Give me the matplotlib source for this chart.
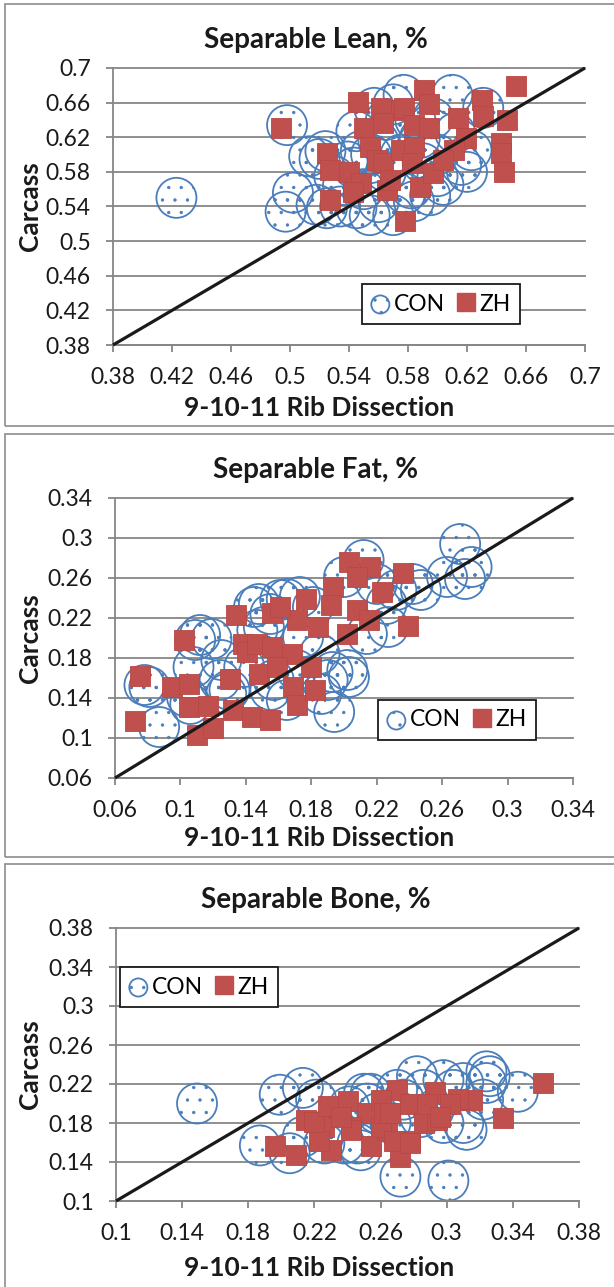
import matplotlib.pyplot as plt
import matplotlib.hatch as mhatch
from matplotlib.patches import Rectangle
from matplotlib.lines import Line2D

W, H = 614, 1287
blue = '#4a7ebb'
red = '#c0504d'
gray = '#868686'

plt.rcParams['font.family'] = ['Lato', 'DejaVu Sans']
plt.rcParams['hatch.color'] = blue
plt.rcParams['hatch.linewidth'] = 0.6


# Excel's dotted fill is sparser than matplotlib's '.' hatch
class SparseDots(mhatch.SmallFilledCircles):
    def __init__(self, hatch, density):
        self.num_rows = hatch.count('.') * 8
        mhatch.Circles.__init__(self, hatch, density)


mhatch._hatch_types[mhatch._hatch_types.index(mhatch.SmallFilledCircles)] = SparseDots

# ---- Separable Lean
lean_con_x = [0.423, 0.498, 0.497, 0.502, 0.513, 0.524, 0.518, 0.525, 0.534, 0.545,
              0.554, 0.539, 0.548, 0.557, 0.570, 0.545, 0.582, 0.570, 0.536, 0.610,
              0.631, 0.623, 0.616, 0.604, 0.595, 0.584, 0.620, 0.597, 0.588, 0.577,
              0.530, 0.555, 0.560, 0.565, 0.575, 0.590, 0.600, 0.585, 0.565, 0.550,
              0.560, 0.612, 0.600, 0.520, 0.543, 0.578]
lean_con_y = [0.550, 0.634, 0.534, 0.556, 0.598, 0.604, 0.542, 0.538, 0.540, 0.538,
              0.530, 0.592, 0.604, 0.654, 0.658, 0.627, 0.561, 0.530, 0.565, 0.669,
              0.654, 0.605, 0.588, 0.565, 0.553, 0.546, 0.580, 0.642, 0.619, 0.669,
              0.575, 0.600, 0.615, 0.580, 0.600, 0.590, 0.600, 0.640, 0.640, 0.560,
              0.545, 0.625, 0.575, 0.595, 0.585, 0.555]
lean_zh_x = [0.546, 0.494, 0.591, 0.594, 0.570, 0.562, 0.577, 0.653, 0.630, 0.631,
             0.614, 0.647, 0.619, 0.550, 0.563, 0.584, 0.594, 0.554, 0.559, 0.563,
             0.575, 0.584, 0.611, 0.643, 0.643, 0.645, 0.525, 0.527, 0.540, 0.548,
             0.566, 0.568, 0.588, 0.597, 0.604, 0.527, 0.578, 0.583, 0.543]
lean_zh_y = [0.661, 0.631, 0.675, 0.658, 0.652, 0.654, 0.654, 0.679, 0.663, 0.644,
             0.642, 0.640, 0.619, 0.631, 0.636, 0.634, 0.631, 0.609, 0.594, 0.590,
             0.605, 0.609, 0.605, 0.613, 0.602, 0.580, 0.602, 0.582, 0.580, 0.567,
             0.559, 0.571, 0.563, 0.579, 0.594, 0.548, 0.523, 0.590, 0.557]

# ---- Separable Fat
fat_con_x = [0.078, 0.087, 0.109, 0.119, 0.104, 0.108, 0.124, 0.128, 0.148, 0.165,
             0.173, 0.151, 0.139, 0.155, 0.185, 0.193, 0.203, 0.194, 0.212, 0.214,
             0.227, 0.220, 0.242, 0.247, 0.263, 0.271, 0.278, 0.274, 0.232, 0.200,
             0.175, 0.155, 0.125, 0.112, 0.081, 0.106, 0.130, 0.145, 0.161, 0.147,
             0.157, 0.165, 0.226, 0.202, 0.190, 0.181, 0.186, 0.171]
fat_con_y = [0.153, 0.111, 0.198, 0.199, 0.141, 0.171, 0.158, 0.144, 0.234, 0.239,
             0.241, 0.211, 0.171, 0.148, 0.184, 0.166, 0.161, 0.126, 0.278, 0.204,
             0.211, 0.254, 0.254, 0.248, 0.261, 0.294, 0.271, 0.259, 0.248, 0.261,
             0.201, 0.224, 0.178, 0.203, 0.151, 0.134, 0.148, 0.231, 0.238, 0.208,
             0.158, 0.138, 0.234, 0.168, 0.158, 0.231, 0.144, 0.168]
fat_zh_x = [0.075, 0.072, 0.095, 0.105, 0.102, 0.105, 0.117, 0.110, 0.120, 0.130,
            0.132, 0.134, 0.138, 0.141, 0.147, 0.144, 0.155, 0.148, 0.156, 0.156,
            0.168, 0.159, 0.169, 0.171, 0.180, 0.182, 0.171, 0.177, 0.184, 0.193,
            0.192, 0.203, 0.216, 0.208, 0.208, 0.202, 0.215, 0.223, 0.236, 0.239,
            0.161]
fat_zh_y = [0.162, 0.117, 0.151, 0.154, 0.198, 0.131, 0.132, 0.103, 0.110, 0.159,
            0.128, 0.223, 0.194, 0.186, 0.194, 0.121, 0.118, 0.164, 0.191, 0.225,
            0.184, 0.171, 0.151, 0.133, 0.171, 0.148, 0.218, 0.239, 0.211, 0.251,
            0.233, 0.276, 0.271, 0.261, 0.228, 0.204, 0.218, 0.246, 0.265, 0.212,
            0.231]

# ---- Separable Bone
bone_con_x = [0.149, 0.199, 0.213, 0.187, 0.205, 0.221, 0.213, 0.241, 0.252, 0.246,
              0.270, 0.282, 0.298, 0.304, 0.324, 0.326, 0.343, 0.322, 0.310, 0.298,
              0.272, 0.301, 0.310, 0.286, 0.274, 0.258, 0.266, 0.284, 0.238, 0.226,
              0.292, 0.250, 0.324, 0.312, 0.254, 0.248]
bone_con_y = [0.200, 0.209, 0.216, 0.157, 0.149, 0.204, 0.166, 0.197, 0.200, 0.159,
              0.214, 0.228, 0.224, 0.214, 0.233, 0.228, 0.212, 0.204, 0.180, 0.180,
              0.125, 0.121, 0.221, 0.214, 0.204, 0.190, 0.180, 0.186, 0.159, 0.159,
              0.193, 0.210, 0.221, 0.173, 0.210, 0.152]
bone_zh_x = [0.358, 0.334, 0.315, 0.307, 0.293, 0.270, 0.196, 0.209, 0.215, 0.230,
             0.234, 0.240, 0.252, 0.254, 0.260, 0.272, 0.278, 0.278, 0.286, 0.294,
             0.302, 0.226, 0.242, 0.264, 0.223, 0.260, 0.220, 0.228, 0.242, 0.262,
             0.268, 0.288, 0.296, 0.236, 0.266, 0.278]
bone_zh_y = [0.221, 0.185, 0.204, 0.205, 0.212, 0.214, 0.156, 0.147, 0.183, 0.152,
             0.193, 0.203, 0.190, 0.156, 0.204, 0.145, 0.162, 0.200, 0.180, 0.183,
             0.200, 0.176, 0.176, 0.173, 0.162, 0.176, 0.181, 0.197, 0.173, 0.190,
             0.162, 0.200, 0.186, 0.186, 0.190, 0.159]

titles = ['Separable Lean, %', 'Separable Fat, %', 'Separable Bone, %']
lean_ticks = [0.38, 0.42, 0.46, 0.5, 0.54, 0.58, 0.62, 0.66, 0.7]
fat_ticks = [0.06, 0.1, 0.14, 0.18, 0.22, 0.26, 0.3, 0.34]
bone_ticks = [0.1, 0.14, 0.18, 0.22, 0.26, 0.3, 0.34, 0.38]

# layout in pixels: axes (l, t, r, b), frame top/bottom, title y, xlabel y, legend centre
layout = [
    dict(ax=(113, 68, 585, 345), frame=(4, 426), ty=40, xy=408, leg=(441, 304)),
    dict(ax=(115, 498, 573, 778), frame=(434, 857), ty=470, xy=838, leg=(457, 720)),
    dict(ax=(116, 928, 579, 1201), frame=(864, 1292), ty=900, xy=1268, leg=(199, 987)),
]
series = [(lean_con_x, lean_con_y, lean_zh_x, lean_zh_y, lean_ticks),
          (fat_con_x, fat_con_y, fat_zh_x, fat_zh_y, fat_ticks),
          (bone_con_x, bone_con_y, bone_zh_x, bone_zh_y, bone_ticks)]

fig = plt.figure(figsize=(W / 100, H / 100), dpi=100)

for title, lay, (cx, cy, zx, zy, ticks) in zip(titles, layout, series):
    ft, fb = lay['frame']
    fig.add_artist(Rectangle((5 / W, 1 - fb / H), 2.0, (fb - ft) / H,
                             transform=fig.transFigure, fill=False,
                             edgecolor='#8c8c8c', linewidth=1.2))
    l, t, r, b = lay['ax']
    ax = fig.add_axes([l / W, 1 - b / H, (r - l) / W, (b - t) / H])
    lo, hi = ticks[0], ticks[-1]
    ax.set_xlim(lo, hi)
    ax.set_ylim(lo, hi)
    ax.set_xticks(ticks)
    ax.set_yticks(ticks)
    ax.set_xticklabels([str(v) for v in ticks])
    ax.set_yticklabels([str(v) for v in ticks])
    ax.tick_params(direction='out', length=5, width=1.3, color=gray,
                   labelsize=16.5, pad=11, labelcolor='#1a1a1a')
    for s in ['top', 'right']:
        ax.spines[s].set_visible(False)
    for s in ['left', 'bottom']:
        ax.spines[s].set_color(gray)
        ax.spines[s].set_linewidth(1.3)
    ax.grid(axis='y', color=gray, linewidth=1.3)
    for gl in ax.get_ygridlines():
        gl.set_clip_on(False)
    ax.set_axisbelow(True)

    ax.scatter(cx, cy, s=830, marker='o', facecolors='none', edgecolors=blue,
               linewidths=1.3, hatch='.', zorder=2, clip_on=False)
    ax.scatter(zx, zy, s=215, marker='s', color=red, edgecolors='#b94744',
               linewidths=0.6, zorder=3, clip_on=False)
    ax.plot([lo, hi], [lo, hi], color='#1a1a1a', linewidth=2.3, zorder=4,
            clip_on=False, solid_capstyle='butt')

    fig.text(316 / W, 1 - lay['ty'] / H, title, ha='center', va='center',
             fontsize=20, fontweight='bold', color='#1a1a1a')
    fig.text(30 / W, 1 - (t + b) / 2 / H, 'Carcass', ha='center', va='center',
             rotation=90, fontsize=19, fontweight='bold', color='#1a1a1a')
    fig.text(319 / W, 1 - lay['xy'] / H, '9-10-11 Rib Dissection', ha='center',
             va='center', fontsize=19, fontweight='bold', color='#1a1a1a')

    h_con = ax.scatter([], [], s=170, marker='o', facecolors='none',
                       edgecolors=blue, linewidths=1.3, hatch='.')
    h_zh = Line2D([], [], marker='s', linestyle='none', markersize=12.5,
                  markerfacecolor=red, markeredgecolor=red)
    lx, ly = lay['leg']
    leg = ax.legend([h_con, h_zh], ['CON', 'ZH'], ncol=2, loc='center',
                    bbox_to_anchor=(lx / W, 1 - ly / H),
                    bbox_transform=fig.transFigure, fontsize=16.5,
                    frameon=True, fancybox=False, framealpha=1,
                    edgecolor='#1a1a1a', handlelength=0.8, handletextpad=0.2,
                    columnspacing=0.5, borderpad=0.4, scatterpoints=1)
    leg.get_frame().set_linewidth(1.3)
    leg.set_zorder(6)

fig.savefig('out.png', dpi=100)
